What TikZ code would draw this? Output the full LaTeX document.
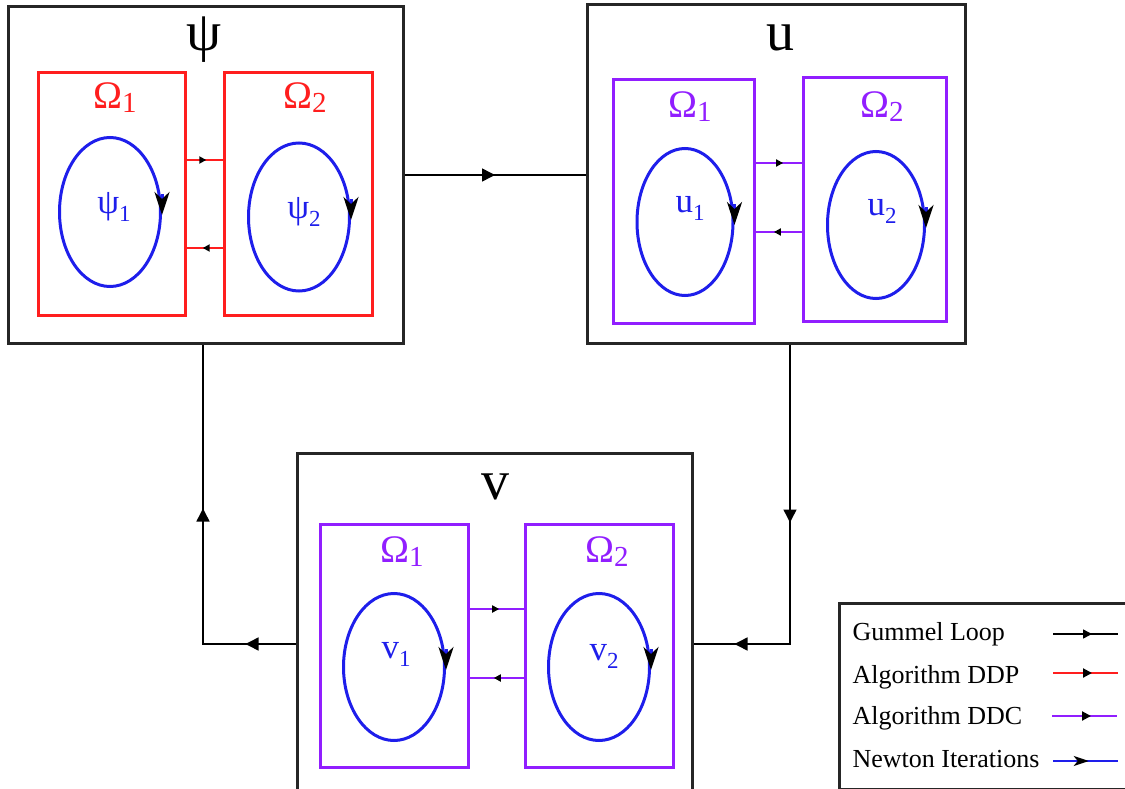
\documentclass[tikz,border=0pt]{standalone}
\usepackage{fontspec}
\setmainfont{Liberation Serif}
\usepackage{tikz}
\usetikzlibrary{shapes.geometric, arrows.meta, positioning, decorations.markings, calc}
\usepackage{xcolor}
\definecolor{ddpred}{RGB}{255,30,30}
\definecolor{ddcviolet}{RGB}{145,30,255}
\definecolor{newtonblue}{RGB}{30,30,235}
\tikzstyle{outerbox} = [rectangle, draw=black!85, line width=3pt, inner sep=0pt]
\tikzstyle{subbox} = [rectangle, line width=3pt, inner sep=0pt, minimum height=243pt]
\tikzstyle{loop} = [ellipse, draw=newtonblue, line width=3pt, inner sep=0pt, minimum width=100pt, minimum height=148pt]
\tikzstyle{newtontip} = [newtonblue, line width=3pt, -{Stealth[black, length=23pt, width=15pt, inset=7pt]}]
\tikzstyle{gummel} = [black, line width=1.5pt]
\tikzstyle{ddp} = [ddpred, line width=2pt]
\tikzstyle{ddc} = [ddcviolet, line width=2pt]
\tikzset{
  smallmid/.style={postaction={decorate, decoration={markings,
      mark=at position #1 with {\arrow{Triangle[black, length=7pt, width=7pt]}}}}},
  bigmid/.style={postaction={decorate, decoration={markings,
      mark=at position #1 with {\arrow{Triangle[black, length=13pt, width=13pt]}}}}},
  keymid/.style={postaction={decorate, decoration={markings,
      mark=at position 0.6 with {\arrow{Triangle[black, length=9pt, width=9pt]}}}}},
}
\newcommand{\omegalabel}[1]{Ω\raisebox{-4pt}{\fontsize{29}{29}\selectfont #1}}
\newcommand{\looplabel}[2]{#1\raisebox{-8pt}{\fontsize{23}{23}\selectfont #2}}

\begin{document}
\begin{tikzpicture}[x=1pt, y=1pt, every node/.style={font=\fontsize{26}{30}\selectfont}]
  \path[use as bounding box, clip] (0,0) rectangle (1125,-789);

  % main blocks
  \node[outerbox, minimum width=395pt, minimum height=336pt] (psi) at (205.5,-175) {};
  \node[outerbox, minimum width=378pt, minimum height=338pt] (u) at (776,-174) {};
  \node[outerbox, minimum width=395pt, minimum height=341pt] (v) at (494.5,-623.5) {};
  \node[font=\fontsize{56}{56}\selectfont] (psititle) at (204,-40) {ψ};
  \node[font=\fontsize{56}{56}\selectfont] (utitle) at (780,-38) {u};
  \node[font=\fontsize{56}{56}\selectfont] (vtitle) at (495,-487) {v};

  % subdomains
  \node[subbox, draw=ddpred, minimum width=147pt, minimum height=242pt] (psiA) at (111.5,-194) {};
  \node[subbox, draw=ddpred, minimum width=148pt, minimum height=242pt] (psiB) at (298,-194) {};
  \node[subbox, draw=ddcviolet, minimum width=141pt] (uA) at (683.5,-201.5) {};
  \node[subbox, draw=ddcviolet, minimum width=143pt] (uB) at (874.5,-199.5) {};
  \node[subbox, draw=ddcviolet, minimum width=148pt] (vA) at (394,-645.5) {};
  \node[subbox, draw=ddcviolet, minimum width=148pt] (vB) at (599,-645.5) {};

  \node[text=ddpred, font=\fontsize{39}{39}\selectfont] (psiAlab) at (115,-98) {\omegalabel{1}};
  \node[text=ddpred, font=\fontsize{39}{39}\selectfont] (psiBlab) at (305,-98) {\omegalabel{2}};
  \node[text=ddcviolet, font=\fontsize{39}{39}\selectfont] (uAlab) at (690,-107) {\omegalabel{1}};
  \node[text=ddcviolet, font=\fontsize{39}{39}\selectfont] (uBlab) at (882,-107) {\omegalabel{2}};
  \node[text=ddcviolet, font=\fontsize{39}{39}\selectfont] (vAlab) at (402,-552) {\omegalabel{1}};
  \node[text=ddcviolet, font=\fontsize{39}{39}\selectfont] (vBlab) at (607,-552) {\omegalabel{2}};

  % newton loops
  \node[loop, minimum width=101pt, minimum height=149pt] (psiAloop) at (110,-212) {};
  \node[loop, minimum width=101pt] (psiBloop) at (299,-217) {};
  \node[loop, minimum width=96pt, minimum height=147pt] (uAloop) at (685,-222) {};
  \node[loop, minimum width=97pt, minimum height=147pt] (uBloop) at (876,-225) {};
  \node[loop, minimum width=101pt, minimum height=147pt] (vAloop) at (394,-667) {};
  \node[loop, minimum width=101pt, minimum height=147pt] (vBloop) at (599,-667) {};
  \draw[newtontip] ([yshift=18pt]psiAloop.east) -- ([yshift=-3pt]psiAloop.east);
  \draw[newtontip] ([yshift=18pt]psiBloop.east) -- ([yshift=-3pt]psiBloop.east);
  \draw[newtontip] ([yshift=18pt]uAloop.east) -- ([yshift=-3pt]uAloop.east);
  \draw[newtontip] ([yshift=18pt]uBloop.east) -- ([yshift=-3pt]uBloop.east);
  \draw[newtontip] ([yshift=18pt]vAloop.east) -- ([yshift=-3pt]vAloop.east);
  \draw[newtontip] ([yshift=18pt]vBloop.east) -- ([yshift=-3pt]vBloop.east);

  \node[text=newtonblue, font=\fontsize{35}{35}\selectfont] (psiAvar) at (114,-207) {\looplabel{ψ}{1}};
  \node[text=newtonblue, font=\fontsize{35}{35}\selectfont] (psiBvar) at (304,-212) {\looplabel{ψ}{2}};
  \node[text=newtonblue, font=\fontsize{35}{35}\selectfont] (uAvar) at (690,-208) {\looplabel{u}{1}};
  \node[text=newtonblue, font=\fontsize{35}{35}\selectfont] (uBvar) at (882,-211) {\looplabel{u}{2}};
  \node[text=newtonblue, font=\fontsize{35}{35}\selectfont] (vAvar) at (396,-654) {\looplabel{v}{1}};
  \node[text=newtonblue, font=\fontsize{35}{35}\selectfont] (vBvar) at (604,-656) {\looplabel{v}{2}};

  % exchange between subdomains
  \draw[ddp, smallmid=0.55] ([yshift=34pt]psiA.east) -- ([yshift=34pt]psiA.east -| psiB.west);
  \draw[ddp, smallmid=0.55] ([yshift=-54pt]psiB.west) -- ([yshift=-54pt]psiB.west -| psiA.east);
  \draw[ddc, smallmid=0.6] ([yshift=38.5pt]uA.east) -- ([yshift=38.5pt]uA.east -| uB.west);
  \draw[ddc, smallmid=0.6] ([yshift=-30.5pt]uA.east -| uB.west) -- ([yshift=-30.5pt]uA.east);
  \draw[ddc, smallmid=0.55] ([yshift=36.5pt]vA.east) -- ([yshift=36.5pt]vA.east -| vB.west);
  \draw[ddc, smallmid=0.55] ([yshift=-32.5pt]vB.west) -- ([yshift=-32.5pt]vB.west -| vA.east);

  % gummel loop
  \draw[gummel, bigmid=0.5] (psi.east) -- (psi.east -| u.west);
  \draw[gummel, bigmid=178pt, bigmid=355pt] ([xshift=14pt]u.south) |- ([yshift=-20.5pt]v.east);
  \draw[gummel, bigmid=50pt, bigmid=228pt] ([yshift=-20.5pt]v.west) -| ([xshift=-2.5pt]psi.south);

  % legend
  \node[outerbox, anchor=north west, minimum width=300pt, minimum height=186pt] (legend) at (838,-602) {};
  \node[anchor=west] (key1) at (849,-634) {Gummel Loop};
  \node[anchor=west] (key2) at (849,-677) {Algorithm DDP};
  \node[anchor=west] (key3) at (849,-718) {Algorithm DDC};
  \node[anchor=west] (key4) at (849,-759) {Newton Iterations};
  \coordinate (k1a) at (1053,-634); \coordinate (k1b) at (1118,-634);
  \coordinate (k2a) at (1053,-673); \coordinate (k2b) at (1118,-673);
  \coordinate (k3a) at (1052,-716); \coordinate (k3b) at (1117,-716);
  \coordinate (k4a) at (1053,-761); \coordinate (k4b) at (1118,-761);
  \draw[gummel, keymid] (k1a) -- (k1b);
  \draw[ddp, keymid] (k2a) -- (k2b);
  \draw[ddc, keymid] (k3a) -- (k3b);
  \draw[newtonblue, line width=2pt, postaction={decorate, decoration={markings, mark=at position 0.55 with {\arrow{Stealth[black, length=15pt, width=10pt, inset=4pt]}}}}] (k4a) -- (k4b);
\end{tikzpicture}
\end{document}
